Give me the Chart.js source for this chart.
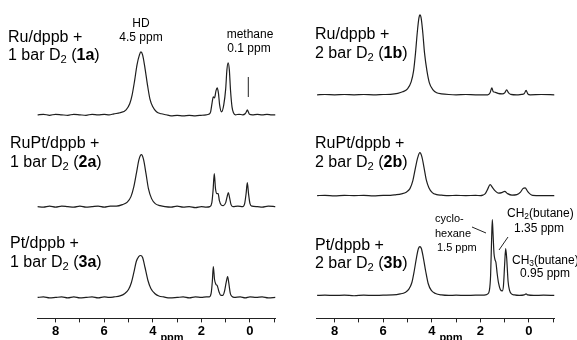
<!DOCTYPE html>
<html>
<head>
<meta charset="utf-8">
<script src="https://cdn.jsdelivr.net/npm/chart.js@4"></script>
<style>
  html, body { margin: 0; padding: 0; background: #fff; }
  #wrap { position: relative; width: 577px; height: 340px; overflow: hidden; font-family: "Liberation Sans", Arial, sans-serif; color: #000; }
  .col { position: absolute; top: 0; height: 340px; }
  .t { position: absolute; white-space: nowrap; transform: translate(0, -50%); line-height: 1; }
  .c { transform: translate(-50%, -50%); }
  .big { font-size: 16px; }
  .mid { font-size: 12px; }
  .sm { font-size: 11px; }
  sub { font-size: 70%; vertical-align: -0.25em; line-height: 0; }
  svg { position: absolute; left: 0; top: 0; }
</style>
</head>
<body>
<div id="wrap">
  <div class="col" style="left:0;width:290px"><canvas id="left"></canvas></div>
  <div class="col" style="left:290px;width:287px"><canvas id="right"></canvas></div>

  <svg width="577" height="340">
    <line x1="248.3" y1="77" x2="248.3" y2="97" stroke="#222" stroke-width="1"/>
    <line x1="472" y1="227" x2="486" y2="233" stroke="#222" stroke-width="1"/>
    <line x1="508" y1="237" x2="499" y2="250" stroke="#222" stroke-width="1"/>
  </svg>

  <div class="t big" style="left:8px;top:37px">Ru/dppb +</div>
  <div class="t big" style="left:8px;top:55px">1 bar D<sub>2</sub> (<b>1a</b>)</div>
  <div class="t big" style="left:10px;top:143px">RuPt/dppb +</div>
  <div class="t big" style="left:10px;top:162px">1 bar D<sub>2</sub> (<b>2a</b>)</div>
  <div class="t big" style="left:10px;top:243px">Pt/dppb +</div>
  <div class="t big" style="left:10px;top:262px">1 bar D<sub>2</sub> (<b>3a</b>)</div>

  <div class="t big" style="left:315px;top:34px">Ru/dppb +</div>
  <div class="t big" style="left:315px;top:53px">2 bar D<sub>2</sub> (<b>1b</b>)</div>
  <div class="t big" style="left:315px;top:143px">RuPt/dppb +</div>
  <div class="t big" style="left:315px;top:162px">2 bar D<sub>2</sub> (<b>2b</b>)</div>
  <div class="t big" style="left:315px;top:245px">Pt/dppb +</div>
  <div class="t big" style="left:315px;top:263px">2 bar D<sub>2</sub> (<b>3b</b>)</div>

  <div class="t c mid" style="left:141px;top:23px">HD</div>
  <div class="t c mid" style="left:141px;top:37px">4.5 ppm</div>
  <div class="t c mid" style="left:250px;top:34px">methane</div>
  <div class="t c mid" style="left:249px;top:48px">0.1 ppm</div>

  <div class="t sm" style="left:435px;top:218px">cyclo-</div>
  <div class="t sm" style="left:435px;top:233px">hexane</div>
  <div class="t sm" style="left:437px;top:247px">1.5 ppm</div>
  <div class="t mid" style="left:507px;top:213px">CH<sub>2</sub>(butane)</div>
  <div class="t mid" style="left:514px;top:228px">1.35 ppm</div>
  <div class="t mid" style="left:512px;top:260px">CH<sub>3</sub>(butane)</div>
  <div class="t mid" style="left:520px;top:273px">0.95 ppm</div>

  <div class="t c sm" style="left:172px;top:337px;font-weight:bold">ppm</div>
  <div class="t c sm" style="left:451px;top:337px;font-weight:bold">ppm</div>
</div>

<script>
// ===== DATA (chemical shift in ppm, intensity in arbitrary units) =====
const ppm1a = [8.75,8.5,8.25,8.0,7.75,7.5,7.25,7.0,6.75,6.5,6.25,6.0,5.8,5.6,5.35,5.1,4.95,4.85,4.75,4.65,4.55,4.49,4.42,4.33,4.22,4.12,4.0,3.85,3.65,3.45,3.25,3.0,2.75,2.5,2.25,2.0,1.8,1.7,1.62,1.56,1.51,1.46,1.4,1.35,1.3,1.25,1.17,1.08,1.0,0.95,0.9,0.85,0.8,0.74,0.68,0.6,0.45,0.3,0.2,0.15,0.11,0.07,0.02,-0.1,-0.3,-0.5,-0.7,-0.9,-1.05];
const int1a = [0,0.5,-0.5,0.5,0,-0.5,0.5,0,-0.5,0.5,0,0.5,0,1,2,5,11,20,34,50,60,63,60,48,30,16,8,3,1,0,-1,-0.5,-1,-0.5,-1,-0.5,0,0.5,3,12,18,17,24,27,22,10,3,10,26,45,52,45,24,8,2,0,0.5,0,1,3,5,3,0.5,0,0.5,0,0.5,0,0];

const ppm2a = [8.75,8.5,8.25,8.0,7.75,7.5,7.25,7.0,6.75,6.5,6.25,6.0,5.75,5.5,5.25,5.05,4.9,4.78,4.67,4.57,4.47,4.38,4.28,4.18,4.05,3.9,3.7,3.5,3.25,3.0,2.75,2.5,2.25,2.0,1.8,1.65,1.57,1.52,1.47,1.42,1.36,1.31,1.26,1.18,1.1,1.0,0.94,0.89,0.84,0.78,0.7,0.5,0.3,0.22,0.16,0.11,0.06,0.0,-0.08,-0.3,-0.5,-0.75,-1.05];
const int2a = [0,-0.5,0.5,-0.5,0.5,0,-0.5,0.5,-0.5,0,0.5,-0.5,0.5,0.5,2,4.5,10,20,34,47,52,47,33,18,8,3,1,0,-0.5,0.5,-0.5,0,-1,0,-0.5,0,4,16,33,18,13,13,6,1.5,1,4,10,14,9,2,0,0.5,0,3,13,24,13,3,0.5,0,-0.5,0.5,0];

const ppm3a = [8.75,8.5,8.25,8.0,7.75,7.5,7.25,7.0,6.75,6.5,6.25,6.0,5.8,5.6,5.35,5.15,5.0,4.88,4.78,4.68,4.58,4.5,4.42,4.32,4.2,4.08,3.92,3.75,3.55,3.3,3.0,2.75,2.5,2.25,2.0,1.8,1.68,1.6,1.55,1.51,1.46,1.4,1.35,1.28,1.2,1.12,1.05,0.98,0.92,0.87,0.81,0.74,0.65,0.4,0.2,0.0,-0.25,-0.5,-0.75,-1.05];
const int3a = [0,0.5,-0.5,0,0.5,-0.5,0.5,-0.5,0,0.5,-0.5,0.5,0,0.5,1.5,4,8,15,25,36,41,42,40,30,17,9,4,1.5,0.5,-0.5,0,0.5,-0.5,0.5,0,0.5,0.5,4,16,31,18,13,12,6,2,2,6,15,21,14,4,1,0,0.5,-0.5,0.5,0,0.5,-0.5,0];

const ppm1b = [8.72,8.4,8.0,7.6,7.2,6.8,6.4,6.0,5.7,5.4,5.2,5.0,4.85,4.75,4.67,4.6,4.53,4.49,4.44,4.37,4.3,4.2,4.1,3.95,3.8,3.6,3.3,3.0,2.6,2.2,1.85,1.7,1.6,1.53,1.47,1.38,1.28,1.1,1.0,0.92,0.84,0.75,0.5,0.3,0.2,0.12,0.05,-0.05,-0.5,-1.05];
const int1b = [0,0.3,0,0.3,0,0.3,0,0.3,0.5,1.5,3,6,13,24,42,62,77,80,77,62,42,24,12,5,2,1,0.3,0,0.3,0,0,0,2,7,3,2.5,1.5,1,2,5,2,0.5,0,0.5,1,4.5,1,0,0.3,0];

const ppm2b = [8.72,8.4,8.0,7.6,7.2,6.8,6.4,6.0,5.7,5.5,5.25,5.05,4.9,4.78,4.68,4.58,4.49,4.41,4.32,4.23,4.12,3.98,3.8,3.6,3.3,3.0,2.6,2.2,2.0,1.9,1.8,1.7,1.6,1.5,1.38,1.25,1.12,1.0,0.88,0.7,0.5,0.35,0.25,0.16,0.05,-0.05,-0.15,-0.5,-1.05];
const int2b = [0,0.3,-0.3,0.3,0,0.3,-0.3,0.3,0.3,0.8,1.8,3.5,7,15,27,38,43,39,28,16,8,3,1,0.5,0,0.3,0,0.3,0,0.5,2,6.5,11,8,4.5,2.5,3,4.3,2,0.5,1,3.5,7,7.7,4,1.5,0.3,0,0];

const ppm3b = [8.72,8.4,8.0,7.6,7.2,6.8,6.4,6.0,5.6,5.3,5.1,4.95,4.82,4.72,4.63,4.55,4.49,4.43,4.35,4.25,4.15,4.02,3.85,3.6,3.3,3.0,2.6,2.2,1.9,1.8,1.7,1.63,1.58,1.54,1.51,1.48,1.44,1.4,1.36,1.31,1.25,1.18,1.1,1.05,1.0,0.96,0.92,0.86,0.8,0.72,0.6,0.4,0.2,0.12,0.05,-0.2,-0.6,-1.05];
const int3b = [0,0.3,0,0.3,-0.3,0.3,0,0.3,0.5,1.5,3,6,13,25,38,47,49,47,38,24,12,5,2,0.5,0,0.3,0,0.3,0.3,0.5,1.5,5,20,55,76,62,42,36,33,22,12,6,4.5,10,32,47,38,14,5,1.5,0.5,0,0.5,1.5,0.5,0,0.3,0];

const tickValues = [8, 6, 4, 2, 0];

// vertical offsets of the stacked traces (top, middle, bottom)
const offsetsLeft = [204, 112, 21];
const offsetsRight = [224, 123, 23];

const FONT = '"Liberation Sans", Arial, sans-serif';

function trace(ppm, ints, off) {
  return {
    data: ppm.map((p, i) => ({ x: p, y: ints[i] + off })),
    borderColor: '#1e1e1e',
    borderWidth: 1.2,
    pointRadius: 0,
    fill: false,
    cubicInterpolationMode: 'monotone'
  };
}

function makeChart(id, sets, pad) {
  new Chart(document.getElementById(id), {
    type: 'line',
    data: { datasets: sets },
    options: {
      responsive: true,
      maintainAspectRatio: false,
      animation: false,
      layout: { padding: pad },
      plugins: { legend: { display: false }, tooltip: { enabled: false } },
      scales: {
        x: {
          type: 'linear', reverse: true, min: -1.05, max: 8.75,
          border: { display: true, color: '#222', width: 1 },
          grid: { display: true, drawOnChartArea: false, drawTicks: true, tickLength: 4, color: '#222' },
          ticks: {
            stepSize: 1, includeBounds: false, autoSkip: false, maxRotation: 0, padding: 1,
            color: '#000', font: { family: FONT, size: 13, weight: 'bold' },
            callback: v => tickValues.includes(v) ? String(v) : ''
          }
        },
        y: { display: false, min: 0, max: 319 }
      }
    }
  });
}

makeChart('left', [
  trace(ppm1a, int1a, offsetsLeft[0]),
  trace(ppm2a, int2a, offsetsLeft[1]),
  trace(ppm3a, int3a, offsetsLeft[2])
], { left: 37.4, right: 14.5, top: 0, bottom: 0 });

makeChart('right', [
  trace(ppm1b, int1b, offsetsRight[0]),
  trace(ppm2b, int2b, offsetsRight[1]),
  trace(ppm3b, int3b, offsetsRight[2])
], { left: 26.4, right: 22.5, top: 0, bottom: 0 });
</script>
</body>
</html>
